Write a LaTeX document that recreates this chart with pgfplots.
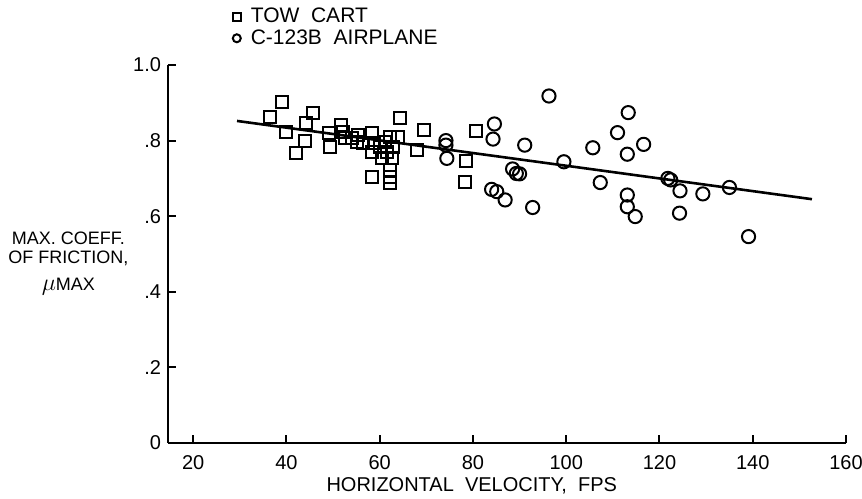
\documentclass[border=0pt]{standalone}
\usepackage{fontspec}
\setmainfont{Liberation Sans}
\usepackage{pgfplots}
\pgfplotsset{compat=1.18}
\begin{document}
\begin{tikzpicture}
\useasboundingbox (0,0) rectangle (431pt,249pt);
\begin{axis}[
  at={(84pt,27.5pt)}, anchor=south west,
  scale only axis, width=339pt, height=189pt,
  xmin=14.6, xmax=160, ymin=0, ymax=1,
  axis x line*=bottom, axis y line*=left,
  axis line style={-, line width=1.1pt},
  tick align=inside, major tick length=4pt,
  tick style={line width=1pt, black},
  xtick={20,40,60,80,100,120,140,160},
  xticklabels={20,40,60,80,100,120,140,160},
  ytick={0,0.2,0.4,0.6,0.8,1.0},
  yticklabels={0,.2,.4,.6,.8,1.0},
  tick label style={font=\fontsize{10}{12}\selectfont},
  xticklabel style={yshift=-2.5pt},
  xlabel={HORIZONTAL\ \ VELOCITY,\ \ FPS},
  xlabel style={font=\fontsize{10}{12}\selectfont, at={(axis description cs:0.448,0)}, anchor=center, yshift=-21.5pt},
  ylabel={MAX. COEFF.\\OF FRICTION,\\[4pt]{\fontsize{13}{13}\selectfont$\mu$}{\fontsize{9}{10}\selectfont MAX}},
  ylabel style={font=\fontsize{9}{9.5}\selectfont, rotate=-90, at={(axis description cs:-0.147,0.475)}, anchor=center, align=center},
  legend style={at={(axis description cs:0.095,1.163)}, anchor=north west, draw=none, fill=none,
    font=\fontsize{10.5}{11}\selectfont, row sep=-2pt, column sep=3pt, inner sep=0pt},
  legend image post style={mark size=2pt},
  legend cell align=left,
]
\addplot[only marks, mark=square, mark size=3pt, line width=1pt, black] coordinates {
(36.5,0.863) (39.0,0.903) (39.9,0.824) (42.0,0.768) (44.0,0.799) (44.2,0.847)
(45.8,0.872) (49.2,0.819) (49.4,0.784) (51.7,0.841) (52.2,0.824) (52.6,0.806)
(54.0,0.806) (55.4,0.815) (55.1,0.797) (56.5,0.793) (58.3,0.819) (58.7,0.793)
(58.3,0.771) (58.3,0.704) (60.0,0.784) (60.5,0.753) (61.2,0.797) (61.5,0.771)
(62.2,0.810) (62.9,0.784) (62.6,0.753) (62.2,0.722) (62.2,0.704) (62.2,0.687)
(64.0,0.810) (64.4,0.859) (68.0,0.775) (69.4,0.828) (78.2,0.690) (78.5,0.747)
(80.7,0.826)
};
\addlegendentry{TOW\ \ CART}
\addplot[only marks, mark=o, mark size=3.3pt, line width=1pt, black] coordinates {
(74.2,0.800) (74.2,0.788) (74.4,0.753) (84.0,0.671) (84.3,0.804) (84.6,0.844)
(85.1,0.665) (86.9,0.643) (88.5,0.725) (89.3,0.713) (90.0,0.712) (91.1,0.788)
(92.8,0.623) (96.3,0.918) (99.5,0.744) (105.7,0.781) (107.3,0.689) (111.0,0.821)
(113.1,0.764) (113.3,0.874) (113.1,0.656) (113.1,0.625) (114.8,0.599) (116.6,0.790)
(121.8,0.700) (122.4,0.696) (124.4,0.667) (124.3,0.608) (129.3,0.659) (135.0,0.676)
(139.1,0.546)
};
\addlegendentry{C-123B\ \ AIRPLANE}
\addplot[black, line width=1.3pt, no marks, forget plot] coordinates {(29.4,0.852) (152.7,0.645)};
\end{axis}
\end{tikzpicture}
\end{document}
